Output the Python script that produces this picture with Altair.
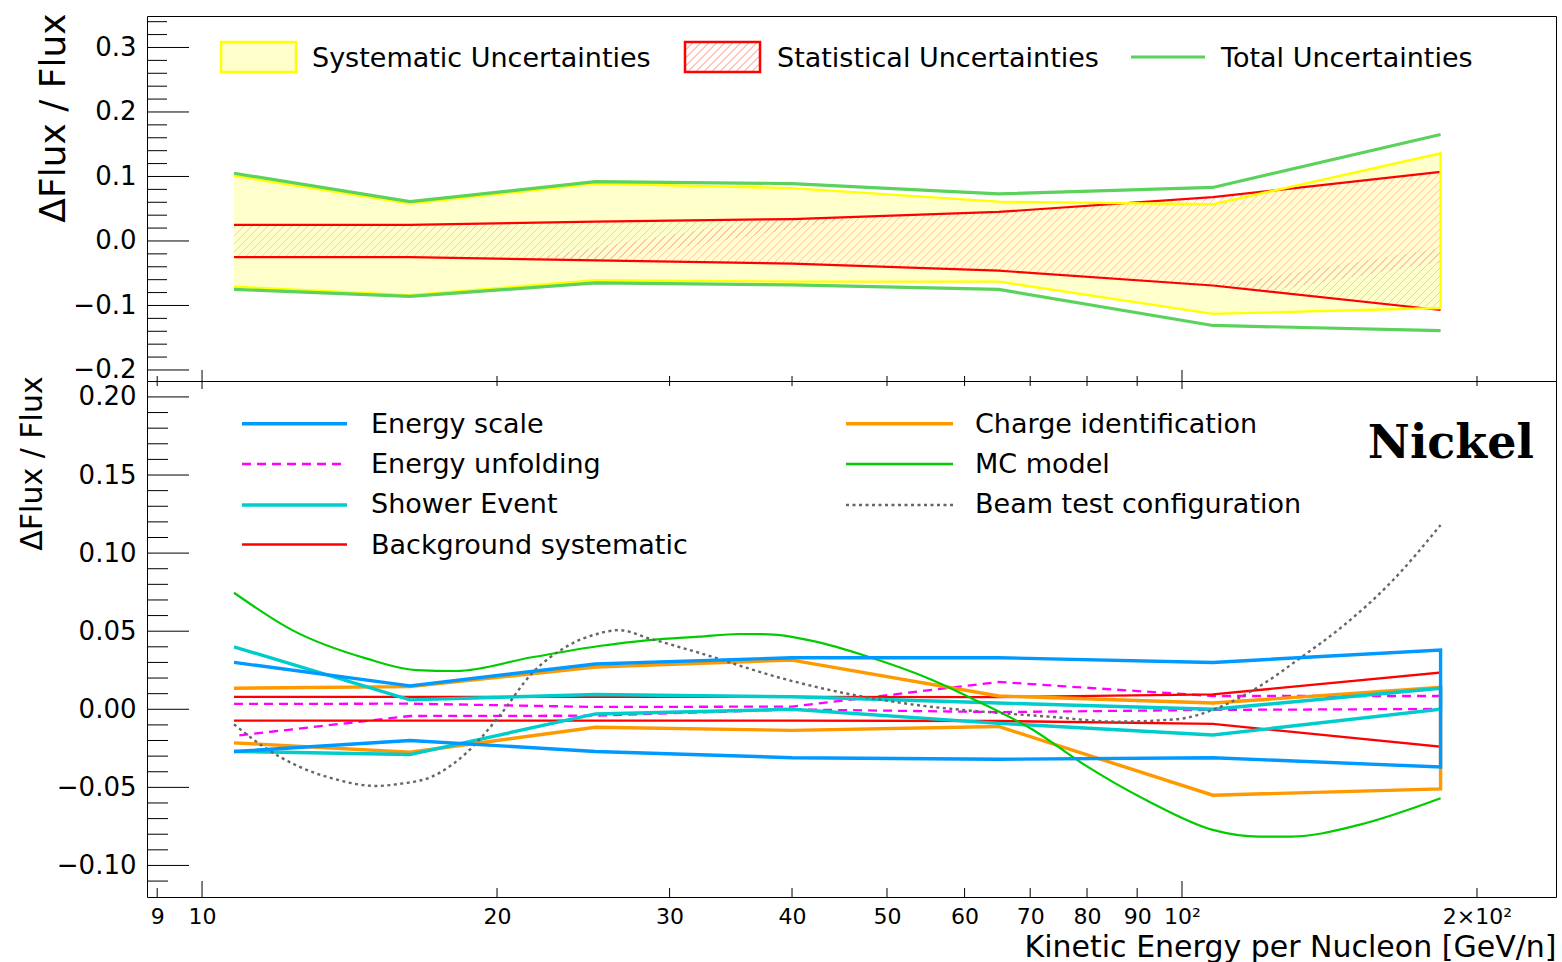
import altair as alt
import numpy as np
import pandas as pd

FONT = "DejaVu Sans"
W = 1409
H_TOP = 365
H_BOT = 516

# Kinetic energy per nucleon of the bins (GeV/n)
energy = [10.78, 16.3, 25.2, 40.0, 65.0, 107.5, 183.6]

# Upper panel: relative uncertainties on the flux
sys_hi = [0.101, 0.058, 0.089, 0.082, 0.061, 0.057, 0.136]
sys_lo = [-0.071, -0.084, -0.061, -0.063, -0.063, -0.113, -0.104]
stat_hi = [0.025, 0.025, 0.030, 0.034, 0.045, 0.068, 0.107]
stat_lo = [-0.025, -0.025, -0.030, -0.035, -0.046, -0.069, -0.107]
tot_hi = [0.105, 0.061, 0.092, 0.089, 0.073, 0.083, 0.165]
tot_lo = [-0.075, -0.086, -0.065, -0.068, -0.075, -0.131, -0.139]

# Lower panel: individual systematic contributions (upper / lower edge)
escale_hi = [0.030, 0.015, 0.029, 0.033, 0.033, 0.030, 0.038]
escale_lo = [-0.027, -0.020, -0.027, -0.031, -0.032, -0.031, -0.037]
unfold_hi = [0.0034, 0.0036, 0.0015, 0.0017, 0.0175, 0.0085, 0.0085]
unfold_lo = [-0.0171, -0.0043, -0.0041, -0.0001, -0.0018, -0.0004, 0.0002]
shower_hi = [0.040, 0.006, 0.0095, 0.008, 0.004, 0.000, 0.0135]
shower_lo = [-0.027, -0.029, -0.003, 0.000, -0.009, -0.0165, 0.000]
bkg_hi = [0.008, 0.008, 0.008, 0.008, 0.0078, 0.0095, 0.0235]
bkg_lo = [-0.0073, -0.0073, -0.0073, -0.0073, -0.0075, -0.0094, -0.024]
charge_hi = [0.0135, 0.0145, 0.027, 0.0315, 0.0085, 0.004, 0.014]
charge_lo = [-0.0215, -0.0275, -0.0115, -0.0135, -0.011, -0.055, -0.051]

# Smooth model-dependence curves
mc_energy = [10.78, 12.36, 14.7, 16.54, 18.16, 21.71, 25.42, 28.58, 32.14, 35.3,
             37.9, 42.3, 47.6, 55.6, 62.5, 70.3, 79.1, 92.5, 107.5, 119.8,
             129.5, 151.6, 183.6]
mc_model = [0.0746, 0.0507, 0.0326, 0.0251, 0.0245, 0.0333, 0.0405, 0.0443, 0.0465, 0.0482,
            0.0480, 0.0433, 0.0341, 0.0188, 0.0038, -0.0128, -0.0346, -0.0590, -0.0772, -0.0815,
            -0.0815, -0.0740, -0.0570]
beam_energy = [10.78, 11.62, 12.56, 13.57, 15.05, 15.89, 17.17, 18.59, 20.09, 21.71,
               23.52, 25.42, 26.64, 28.58, 32.14, 39.07, 45.7, 53.5, 62.5, 73.1,
               85.6, 98.6, 107.5, 119.8, 132.6, 145.7, 163.8, 183.6]
beam_test = [-0.0096, -0.0250, -0.0367, -0.0442, -0.0491, -0.0478, -0.0431, -0.0282, -0.0047, 0.0230,
             0.0400, 0.0486, 0.0507, 0.0454, 0.0362, 0.0198, 0.0098, 0.0028, -0.0015, -0.0047,
             -0.0079, -0.0064, -0.0004, 0.0145, 0.0337, 0.0529, 0.0820, 0.1180]

# Axis ticks and labels
x_major = [10, 100]
x_minor = [9, 20, 30, 40, 50, 60, 70, 80, 90, 200]
x_labels = [9, 10, 20, 30, 40, 50, 60, 70, 80, 90, 100, 200]
top_major = [-0.2, -0.1, 0.0, 0.1, 0.2, 0.3]
top_minor = [round(v, 2) for v in np.arange(-0.18, 0.35, 0.02) if abs(round(v * 10) - v * 10) > 1e-6]
bot_major = [-0.10, -0.05, 0.0, 0.05, 0.10, 0.15, 0.20]
bot_minor = [round(v, 2) for v in np.arange(-0.11, 0.205, 0.01) if abs(round(v * 20) - v * 20) > 1e-6]

top_legend = ["Systematic Uncertainties", "Statistical Uncertainties", "Total Uncertainties"]
bot_legend = ["Energy scale", "Energy unfolding", "Shower Event", "Background systematic",
              "Charge identification", "MC model", "Beam test configuration"]

C_ESCALE = "#0099ff"
C_UNFOLD = "#ff00ff"
C_SHOWER = "#00cccc"
C_BKG = "#ff0000"
C_CHARGE = "#ff9900"
C_MC = "#00cc00"
C_BEAM = "#666666"
C_TOTAL = "#5bd25b"
C_HATCH = "#ffc2b8"


def hatch(w, h, spacing, lw, color):
    """Diagonal /// hatching as a hard-stop linear gradient over a w x h box."""
    clear = "rgba(255,255,255,0)"
    span = w + h
    step = spacing / span
    width = lw / span
    stops = []
    a = 0.0
    while a < 1.0:
        b = min(a + width, 1.0)
        stops += [alt.GradientStop(offset=a, color=clear), alt.GradientStop(offset=a, color=color),
                  alt.GradientStop(offset=b, color=color), alt.GradientStop(offset=b, color=clear)]
        a += step
    r = h / w
    k = (1 + r) / (1 + r * r)
    return alt.LinearGradient(gradient="linear", stops=stops, x1=0, y1=0, x2=k, y2=k * r)


x_scale = alt.Scale(type="log", domain=[8.787, 240.8], nice=False)
y_top_scale = alt.Scale(domain=[-0.2171, 0.3488], nice=False, zero=False)
y_bot_scale = alt.Scale(domain=[-0.1202, 0.2102], nice=False, zero=False)

top_y_axis = alt.Axis(values=top_major, format=".1f", ticks=False, tickSize=0, domain=False, grid=False,
                      labelFont=FONT, labelFontSize=26, labelColor="black", labelPadding=11,
                      title="ΔFlux / Flux", titleFont=FONT, titleFontSize=36, titleFontWeight="normal",
                      titleColor="black", titleAngle=270, titleAlign="center", titleBaseline="alphabetic",
                      titleX=-83, titleY=101.5)
bot_y_axis = alt.Axis(values=bot_major, format=".2f", ticks=False, tickSize=0, domain=False, grid=False,
                      labelFont=FONT, labelFontSize=26, labelColor="black", labelPadding=11,
                      title="ΔFlux / Flux", titleFont=FONT, titleFontSize=30, titleFontWeight="normal",
                      titleColor="black", titleAngle=270, titleAlign="center", titleBaseline="alphabetic",
                      titleX=-106, titleY=82)
bot_x_axis = alt.Axis(values=x_labels, ticks=False, tickSize=0, domain=False, grid=False,
                      labelExpr="datum.value == 100 ? '10²' : datum.value == 200 ? '2×10²' : format(datum.value, 'd')",
                      labelFont=FONT, labelFontSize=22, labelColor="black", labelPadding=9,
                      labelOverlap=False, labelFlush=False, labelBound=False,
                      title="Kinetic Energy per Nucleon [GeV/n]", titleFont=FONT, titleFontSize=30,
                      titleFontWeight="normal", titleColor="black", titleAlign="right",
                      titleBaseline="alphabetic", titleAngle=0, titleX=W, titleY=59)

x_top = alt.X("E:Q", scale=x_scale, axis=None)
y_top = alt.Y("v:Q", scale=y_top_scale, axis=top_y_axis)
x_bot = alt.X("E:Q", scale=x_scale, axis=bot_x_axis)
y_bot = alt.Y("v:Q", scale=y_bot_scale, axis=bot_y_axis)


def two_edges(hi, lo):
    return pd.DataFrame({"E": energy * 2, "v": hi + lo, "k": ["hi"] * len(hi) + ["lo"] * len(lo)})


def outline(hi, lo):
    # upper edge left to right, then lower edge back from the right end
    n = len(energy)
    return pd.DataFrame({"E": energy + energy[::-1], "v": hi + lo[::-1], "i": list(range(2 * n))})


def y_ticks(values, y_enc, length):
    return alt.Chart(pd.DataFrame({"v": values})).mark_rule(color="black", strokeWidth=1).encode(
        y=y_enc, x=alt.value(0), x2=alt.value(length))


def x_ticks(values, x_enc, y0, y1):
    return alt.Chart(pd.DataFrame({"E": values})).mark_rule(color="black", strokeWidth=1).encode(
        x=x_enc, y=alt.value(y0), y2=alt.value(y1))


def key_line(x0, x1, y, color, width, dash=None):
    props = dict(color=color, strokeWidth=width)
    if dash:
        props["strokeDash"] = dash
    return alt.Chart(pd.DataFrame({"k": [0]})).mark_rule(**props).encode(
        x=alt.value(x0), x2=alt.value(x1), y=alt.value(y))


def key_text(x, y, label, size):
    return alt.Chart(pd.DataFrame({"t": [label]})).mark_text(
        align="left", baseline="alphabetic", font=FONT, fontSize=size, color="black").encode(
        x=alt.value(x), y=alt.value(y), text="t:N")


# ---------------- upper panel ----------------
sys_fill = alt.Chart(pd.DataFrame({"E": energy, "v": sys_hi, "v2": sys_lo})).mark_area(
    color="#ffffcc").encode(x=x_top, y=y_top, y2="v2:Q")
stat_fill = alt.Chart(pd.DataFrame({"E": energy, "v": stat_hi, "v2": stat_lo})).mark_area(
    fill=hatch(1208, 139, 8, 1.1, C_HATCH)).encode(x=x_top, y=y_top, y2="v2:Q")
stat_lines = alt.Chart(two_edges(stat_hi, stat_lo)).mark_line(color="#ff0000", strokeWidth=2.2).encode(
    x=x_top, y=y_top, detail="k:N")
sys_line = alt.Chart(outline(sys_hi, sys_lo)).mark_line(color="#ffff00", strokeWidth=2.4).encode(
    x=x_top, y=y_top, order="i:Q")
tot_lines = alt.Chart(two_edges(tot_hi, tot_lo)).mark_line(color=C_TOTAL, strokeWidth=3.2).encode(
    x=x_top, y=y_top, detail="k:N")

box_sys = alt.Chart(pd.DataFrame({"k": [0]})).mark_rect(
    fill="#ffffcc", stroke="#ffff00", strokeWidth=2.5).encode(
    x=alt.value(74), x2=alt.value(149), y=alt.value(26), y2=alt.value(56))
box_stat = alt.Chart(pd.DataFrame({"k": [0]})).mark_rect(
    fill=hatch(75, 30, 8, 1.1, C_HATCH), stroke="#ff0000", strokeWidth=2.5).encode(
    x=alt.value(538), x2=alt.value(613), y=alt.value(26), y2=alt.value(56))

top = alt.layer(
    sys_fill, stat_fill, stat_lines, sys_line, tot_lines,
    y_ticks(top_major, y_top, 42), y_ticks(top_minor, y_top, 20),
    x_ticks(x_major, x_top, H_TOP, H_TOP - 11), x_ticks(x_minor, x_top, H_TOP, H_TOP - 5),
    box_sys, key_text(165, 51, top_legend[0], 27),
    box_stat, key_text(630, 51, top_legend[1], 27),
    key_line(984, 1058, 41, C_TOTAL, 3.2), key_text(1074, 51, top_legend[2], 27),
).properties(width=W, height=H_TOP)

# ---------------- lower panel ----------------
unfold_lines = alt.Chart(outline(unfold_hi, unfold_lo)).mark_line(
    color=C_UNFOLD, strokeWidth=2.3, strokeDash=[9, 6]).encode(x=x_bot, y=y_bot, order="i:Q")
bkg_line = alt.Chart(outline(bkg_hi, bkg_lo)).mark_line(color=C_BKG, strokeWidth=2.3).encode(
    x=x_bot, y=y_bot, order="i:Q")
charge_line = alt.Chart(outline(charge_hi, charge_lo)).mark_line(color=C_CHARGE, strokeWidth=3.4).encode(
    x=x_bot, y=y_bot, order="i:Q")
shower_line = alt.Chart(outline(shower_hi, shower_lo)).mark_line(color=C_SHOWER, strokeWidth=3.4).encode(
    x=x_bot, y=y_bot, order="i:Q")
mc_line = alt.Chart(pd.DataFrame({"E": mc_energy, "v": mc_model})).mark_line(
    color=C_MC, strokeWidth=2.2, interpolate="monotone").encode(x=x_bot, y=y_bot)
beam_line = alt.Chart(pd.DataFrame({"E": beam_energy, "v": beam_test})).mark_line(
    color=C_BEAM, strokeWidth=2.4, strokeDash=[3, 3.5], interpolate="monotone").encode(x=x_bot, y=y_bot)
escale_line = alt.Chart(outline(escale_hi, escale_lo)).mark_line(color=C_ESCALE, strokeWidth=3.4).encode(
    x=x_bot, y=y_bot, order="i:Q")

nickel = alt.Chart(pd.DataFrame({"t": ["Nickel"]})).mark_text(
    align="right", baseline="alphabetic", font="DejaVu Serif", fontWeight="bold", fontSize=46,
    color="black").encode(x=alt.value(1387), y=alt.value(77), text="t:N")

rows = [42.7, 83, 124, 163.5]
base = [51.7, 91.7, 132.3, 173]
bottom = alt.layer(
    unfold_lines, bkg_line, charge_line, shower_line, mc_line, beam_line, escale_line,
    y_ticks(bot_major, y_bot, 42), y_ticks(bot_minor, y_bot, 21),
    x_ticks(x_major, x_bot, H_BOT, H_BOT - 16), x_ticks(x_minor, x_bot, H_BOT, H_BOT - 9),
    x_ticks(x_major, x_bot, 0, 8), x_ticks(x_minor, x_bot, 0, 5),
    key_line(95, 200, rows[0], C_ESCALE, 3.4), key_text(224, base[0], bot_legend[0], 27),
    key_line(95, 200, rows[1], C_UNFOLD, 2.3, [9, 6]), key_text(224, base[1], bot_legend[1], 27),
    key_line(95, 200, rows[2], C_SHOWER, 3.4), key_text(224, base[2], bot_legend[2], 27),
    key_line(95, 200, rows[3], C_BKG, 2.3), key_text(224, base[3], bot_legend[3], 27),
    key_line(699, 806, rows[0], C_CHARGE, 3.4), key_text(828, base[0], bot_legend[4], 27),
    key_line(699, 806, rows[1], C_MC, 2.3), key_text(828, base[1], bot_legend[5], 27),
    key_line(699, 806, rows[2], C_BEAM, 2.4, [3, 3.5]), key_text(828, base[2], bot_legend[6], 27),
    nickel,
).properties(width=W, height=H_BOT)

chart = alt.vconcat(top, bottom, spacing=0, bounds="flush").properties(
    padding={"left": 16, "top": 12, "right": 2, "bottom": 0},
    background="white",
).configure_view(stroke="black", strokeWidth=1)

chart.save("out.html", embed_options={"renderer": "svg", "actions": False})
